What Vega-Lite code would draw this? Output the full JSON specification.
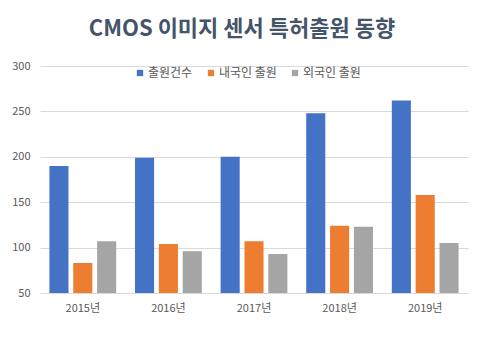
{
  "$schema": "https://vega.github.io/schema/vega-lite/v6.json",
  "width": 428,
  "height": 227,
  "autosize": {"type": "none"},
  "padding": {"left": 40, "top": 66, "right": 17, "bottom": 71},
  "background": "white",
  "title": {
    "text": "CMOS 이미지 센서 특허출원 동향",
    "font": "Noto Sans CJK KR",
    "fontSize": 22,
    "fontWeight": "bold",
    "color": "#44546A",
    "anchor": "middle",
    "dx": -12,
    "offset": 19
  },
  "data": {
    "values": [
      {"year": "2015년", "series": "출원건수", "value": 190},
      {"year": "2015년", "series": "내국인 출원", "value": 83},
      {"year": "2015년", "series": "외국인 출원", "value": 107},
      {"year": "2016년", "series": "출원건수", "value": 199},
      {"year": "2016년", "series": "내국인 출원", "value": 104},
      {"year": "2016년", "series": "외국인 출원", "value": 96},
      {"year": "2017년", "series": "출원건수", "value": 200},
      {"year": "2017년", "series": "내국인 출원", "value": 107},
      {"year": "2017년", "series": "외국인 출원", "value": 93},
      {"year": "2018년", "series": "출원건수", "value": 248},
      {"year": "2018년", "series": "내국인 출원", "value": 124},
      {"year": "2018년", "series": "외국인 출원", "value": 123},
      {"year": "2019년", "series": "출원건수", "value": 262},
      {"year": "2019년", "series": "내국인 출원", "value": 158},
      {"year": "2019년", "series": "외국인 출원", "value": 105}
    ]
  },
  "mark": {"type": "bar", "clip": true},
  "encoding": {
    "x": {
      "field": "year",
      "type": "nominal",
      "scale": {"paddingInner": 0.22, "paddingOuter": 0.11},
      "axis": {
        "title": null,
        "labelAngle": 0,
        "ticks": false,
        "domain": false,
        "labelPadding": 9,
        "labelFont": "Noto Sans CJK KR",
        "labelFontSize": 11,
        "labelColor": "#595959"
      }
    },
    "xOffset": {
      "field": "series",
      "type": "nominal",
      "sort": ["출원건수", "내국인 출원", "외국인 출원"],
      "scale": {"paddingInner": 0.2}
    },
    "y": {
      "field": "value",
      "type": "quantitative",
      "scale": {"domain": [50, 300], "zero": false, "nice": false},
      "axis": {
        "title": null,
        "values": [50, 100, 150, 200, 250, 300],
        "ticks": false,
        "domain": false,
        "gridColor": "#D9D9D9",
        "labelPadding": 10,
        "labelFont": "Noto Sans CJK KR",
        "labelFontSize": 11,
        "labelColor": "#595959"
      }
    },
    "color": {
      "field": "series",
      "type": "nominal",
      "sort": ["출원건수", "내국인 출원", "외국인 출원"],
      "scale": {
        "domain": ["출원건수", "내국인 출원", "외국인 출원"],
        "range": ["#4472C4", "#ED7D31", "#A5A5A5"]
      },
      "legend": {
        "title": null,
        "orient": "none",
        "direction": "horizontal",
        "legendX": 94,
        "legendY": 1,
        "symbolType": "square",
        "symbolSize": 40,
        "symbolStrokeWidth": 0,
        "labelFont": "Noto Sans CJK KR",
        "labelFontSize": 12,
        "labelColor": "#595959",
        "columnPadding": 12,
        "labelOffset": 2
      }
    }
  },
  "config": {
    "view": {"stroke": null}
  }
}
